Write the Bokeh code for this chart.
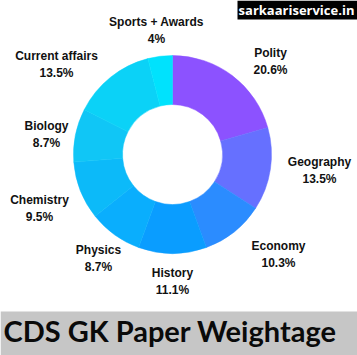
import numpy as np
from bokeh.plotting import figure
from bokeh.models import Range1d, ColumnDataSource
from bokeh.core.properties import value
from bokeh.embed import file_html
from bokeh.resources import INLINE

# ---- data ----
subjects = ["Polity", "Geography", "Economy", "History", "Physics",
            "Chemistry", "Biology", "Current affairs", "Sports + Awards"]
weights = [20.6, 13.5, 10.3, 11.1, 8.7, 9.5, 8.7, 13.5, 4]
colors = ["#8c52ff", "#6670ff", "#2b8cff", "#0a9dff", "#0aaefd",
          "#0cbaf9", "#10c6f6", "#0bd2f7", "#00e2fd"]
title_text = "CDS GK Paper Weightage"
watermark = "sarkaariservice.in"

# ---- layout (pixel positions, top-left origin) ----
W, H = 357, 355
cx, cy = 172, 154
r_in, r_out = 50, 99
label_pos = [(270, 52), (319, 161), (278, 245), (172, 272), (98, 249),
             (39, 199), (46, 125), (56, 55), (156, 21)]
line_gap = 17

p = figure(width=W, height=H, output_backend="svg", toolbar_location=None,
           x_range=Range1d(0, W), y_range=Range1d(0, H), min_border=0)
p.axis.visible = False
p.grid.visible = False
p.outline_line_color = None
p.background_fill_color = "white"
p.border_fill_color = "white"

w = np.array(weights, dtype=float)
frac = w / w.sum()
cum = np.concatenate([[0], np.cumsum(frac)])
start = np.pi / 2 - 2 * np.pi * cum[:-1]
end = np.pi / 2 - 2 * np.pi * cum[1:]

src = ColumnDataSource(dict(start=start, end=end, color=colors))
p.annular_wedge(x=cx, y=H - cy, inner_radius=r_in, outer_radius=r_out,
                start_angle="start", end_angle="end", direction="clock",
                fill_color="color", line_color="color", line_width=0.5,
                source=src)

lx = [q[0] for q in label_pos]
ly = [H - q[1] for q in label_pos]
pct = [f"{v:g}%" for v in weights]
lab = ColumnDataSource(dict(x=lx, y=ly, y2=[v - line_gap for v in ly],
                            name=subjects, pct=pct))
common = dict(text_font=value("Liberation Sans"), text_font_style="bold",
              text_font_size="12px", text_color="#111111",
              text_align="center", text_baseline="middle", source=lab)
p.text(x="x", y="y", text="name", **common)
p.text(x="x", y="y2", text="pct", **common)

# watermark box
p.quad(left=[237], right=[W], top=[H], bottom=[H - 19], fill_color="black",
       line_color=None)
p.text(x=[296], y=[H - 9.5], text=[watermark], text_font=value("Open Sans"),
       text_font_style="bold", text_font_size="13px", text_color="white",
       text_align="center", text_baseline="middle")

# title bar
p.quad(left=[0], right=[W], top=[H - 311], bottom=[0], fill_color="#c6c6c6",
       line_color=None)
p.text(x=[3], y=[H - 330], text=[title_text], text_font=value("Lato"),
       text_font_style="bold", text_font_size="29px", text_color="#0a0a0a",
       text_align="left", text_baseline="middle")

open("out.html", "w").write(file_html(p, INLINE))
